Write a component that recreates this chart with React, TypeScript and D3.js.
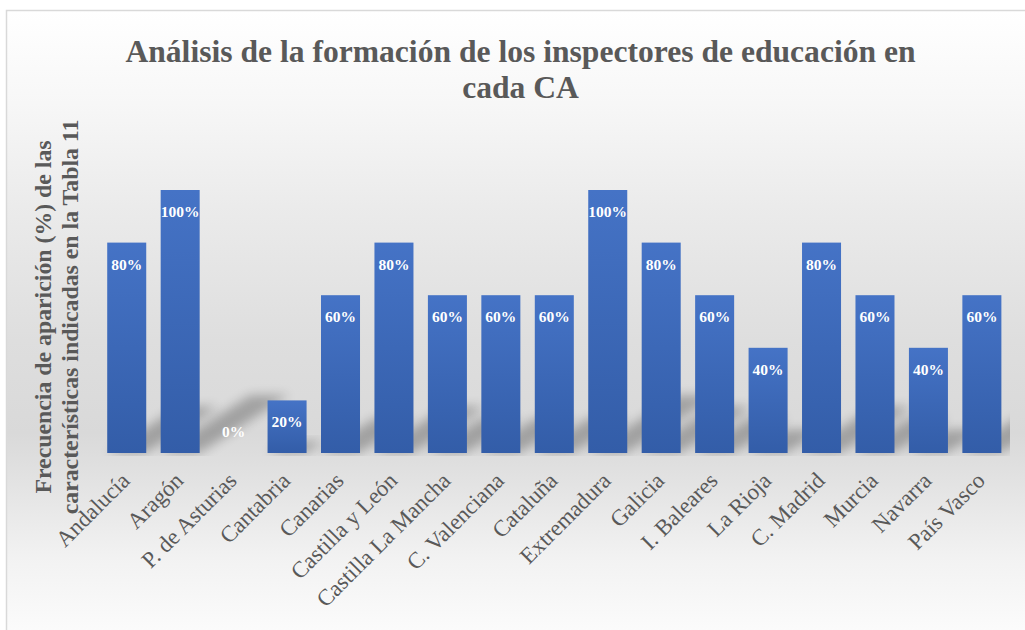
import React from "react";
import * as d3 from "d3";

const categories = [
  "Andalucía", "Aragón", "P. de Asturias", "Cantabria", "Canarias", "Castilla y León",
  "Castilla La Mancha", "C. Valenciana", "Cataluña", "Extremadura", "Galicia",
  "I. Baleares", "La Rioja", "C. Madrid", "Murcia", "Navarra", "País Vasco",
];
const values = [0.8, 1, 0, 0.2, 0.6, 0.8, 0.6, 0.6, 0.6, 1, 0.8, 0.6, 0.4, 0.8, 0.6, 0.4, 0.6];
const titleLines = ["Análisis de la formación de los inspectores de educación en", "cada CA"];
const yLabelLines = ["Frecuencia de aparición (%) de las", "características indicadas en la Tabla 11"];

const W = 1025;
const H = 630;
const FONT = "'Liberation Serif', 'Times New Roman', serif";
const GRAY = "#595959";

export default function App() {
  const base = 453;
  const x = d3.scaleBand<string>().domain(categories).range([100, 1008.6]).paddingInner(0.27).paddingOuter(0.135);
  const y = d3.scaleLinear().domain([0, 1]).range([base, 190]);
  const fmt = d3.format(".0%");
  const bw = x.bandwidth();

  return (
    <div style={{ position: "absolute", left: 0, top: 0 }}>
      <svg width={W} height={H} style={{ display: "block" }}>
        <defs>
          <linearGradient id="bg" x1="0" y1="0" x2="0" y2="1">
            <stop offset="0" stopColor="#ffffff" />
            <stop offset="0.145" stopColor="#f7f7f7" />
            <stop offset="0.306" stopColor="#ebebeb" />
            <stop offset="0.516" stopColor="#dedede" />
            <stop offset="0.66" stopColor="#d9d9d9" />
            <stop offset="0.74" stopColor="#e3e3e3" />
            <stop offset="0.855" stopColor="#f2f2f2" />
            <stop offset="1" stopColor="#fefefe" />
          </linearGradient>
          <linearGradient id="barg" x1="0" y1="0" x2="0" y2="1">
            <stop offset="0" stopColor="#4573c6" />
            <stop offset="1" stopColor="#335da8" />
          </linearGradient>
          <filter id="blur" x="-50%" y="-50%" width="200%" height="200%">
            <feGaussianBlur stdDeviation="5.5" />
          </filter>
          <clipPath id="plotclip">
            <rect x={100} y={120} width={910} height={base + 3 - 120} />
          </clipPath>
        </defs>
        <rect x={6.5} y={10.5} width={W + 10} height={H + 10} fill="url(#bg)" stroke="#d9d9d9" strokeWidth={1.5} />

        <g fontFamily={FONT} fontWeight="bold" fill={GRAY} fontSize={31.6} textAnchor="middle">
          {titleLines.map((t, i) => (
            <text key={i} x={520.5} y={62 + i * 36}>{t}</text>
          ))}
        </g>

        <g clipPath="url(#plotclip)">
          {categories.map((c, i) => {
            const x0 = x(c)!;
            const h = base - y(values[i]);
            const dx = h * 0.34;
            const dy = h * 0.22;
            const pts = [
              [x0, base], [x0 + bw, base], [x0 + bw + dx, base - dy], [x0 + dx, base - dy],
            ].map((p) => p.join(",")).join(" ");
            return <polygon key={c} points={pts} fill="#000" opacity={0.26} filter="url(#blur)" />;
          })}
        </g>

        {categories.map((c, i) => (
          <rect key={c} x={x(c)} y={y(values[i])} width={bw} height={base - y(values[i])} fill="url(#barg)" />
        ))}

        <g fontFamily={FONT} fontWeight="bold" fill="#ffffff" fontSize={15.5} textAnchor="middle">
          {categories.map((c, i) => (
            <text key={c} x={x(c)! + bw / 2} y={values[i] > 0 ? y(values[i]) + 27 : base - 16}>
              {fmt(values[i])}
            </text>
          ))}
        </g>

        <g fontFamily={FONT} fill={GRAY} fontSize={22.8} textAnchor="end">
          {categories.map((c) => {
            const px = x(c)! + bw / 2 + 4.5;
            const py = base + 29;
            return (
              <text key={c} x={px} y={py} transform={`rotate(-45 ${px} ${py})`}>{c}</text>
            );
          })}
        </g>

        <g fontFamily={FONT} fontWeight="bold" fill={GRAY} fontSize={23.8} textAnchor="middle">
          {yLabelLines.map((t, i) => {
            const px = 51 + i * 27;
            const py = 317;
            return (
              <text key={i} x={px} y={py} transform={`rotate(-90 ${px} ${py})`}>{t}</text>
            );
          })}
        </g>
      </svg>
    </div>
  );
}
